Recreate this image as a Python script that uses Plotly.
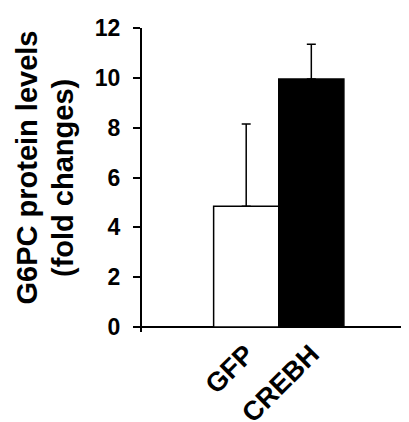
import plotly.graph_objects as go

categories = ["GFP", "CREBH"]
values = [4.85, 9.95]
errors_up = [3.3, 1.4]
colors = ["white", "black"]
y_ticks = [0, 2, 4, 6, 8, 10, 12]
title_line1 = "G6PC protein levels"
title_line2 = "(fold changes)"

FONT = "Liberation Sans, Arial, sans-serif"

fig = go.Figure()
fig.add_trace(go.Bar(
    x=list(range(len(categories))),
    y=values,
    width=1.0,
    marker=dict(color=colors, line=dict(color="black", width=1.5)),
    error_y=dict(type="data", symmetric=False, array=errors_up,
                 arrayminus=[0, 0], color="black", thickness=1.5, width=4.5),
))

fig.update_layout(
    width=401, height=414,
    margin=dict(l=134, r=0, t=20, b=90, autoexpand=False),
    plot_bgcolor="white", paper_bgcolor="white",
    showlegend=False,
    font=dict(family=FONT, color="black"),
    xaxis=dict(
        range=[-1.6, 2.5],
        automargin=False,
        tickmode="array",
        tickvals=list(range(len(categories))),
        ticktext=["<b>%s</b>" % c for c in categories],
        tickangle=-45,
        tickfont=dict(size=27, family=FONT, color="black"),
        showline=False, showgrid=False, zeroline=False, ticks="",
    ),
    yaxis=dict(
        range=[-0.2, 12],
        automargin=False,
        tickmode="array",
        tickvals=y_ticks,
        ticktext=["<b>%d</b>" % v for v in y_ticks],
        tickfont=dict(size=23, family=FONT, color="black"),
        ticks="outside", ticklen=7, tickwidth=1.5, tickcolor="black",
        showline=True, linecolor="black", linewidth=2,
        showgrid=False,
        zeroline=True, zerolinecolor="black", zerolinewidth=2,
        ticklabelstandoff=8,
    ),
    annotations=[
        dict(text="<b>%s</b>" % title_line1, xref="paper", yref="paper",
             x=(26 - 142) / 267, y=(332 - 167.5) / 304, textangle=-90,
             showarrow=False, xanchor="center", yanchor="middle",
             font=dict(size=29, family=FONT, color="black")),
        dict(text="<b>%s</b>" % title_line2, xref="paper", yref="paper",
             x=(63 - 142) / 267, y=(332 - 178) / 304, textangle=-90,
             showarrow=False, xanchor="center", yanchor="middle",
             font=dict(size=29, family=FONT, color="black")),
    ],
)

fig.write_html("out.html")
